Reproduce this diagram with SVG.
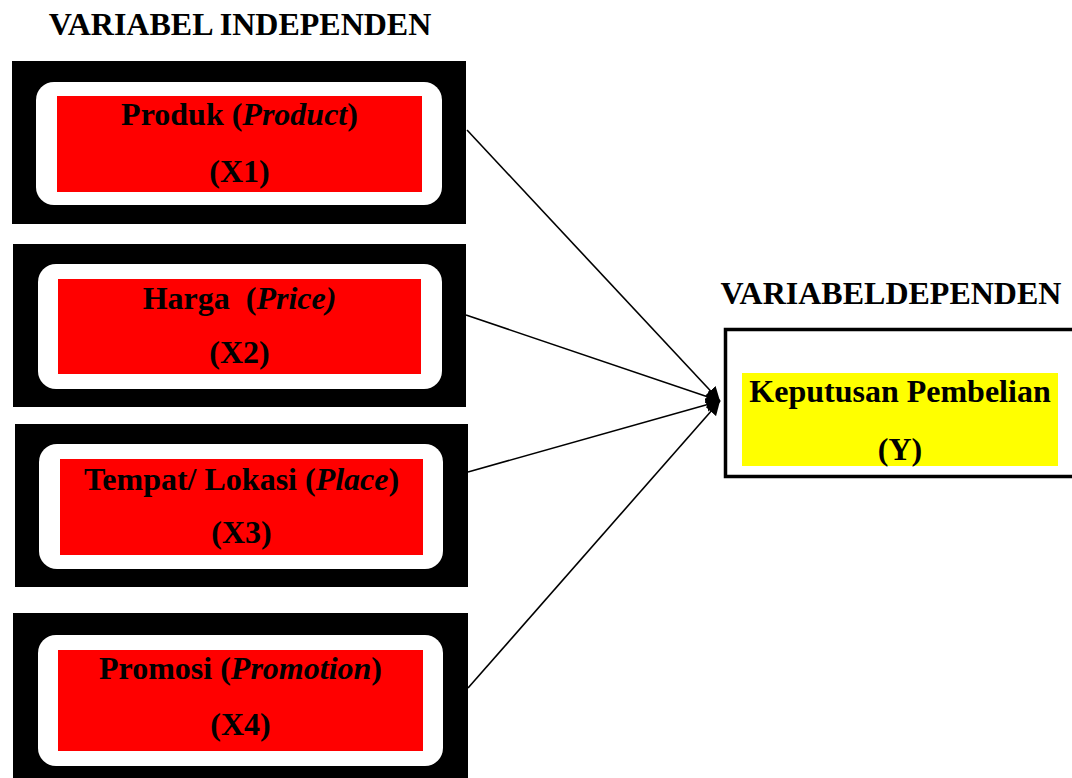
<svg xmlns="http://www.w3.org/2000/svg" width="1072" height="778" viewBox="0 0 1072 778">
<style>
text{font-family:"Liberation Serif","Times New Roman",serif;font-weight:bold;font-size:32px;fill:#000;text-anchor:middle;white-space:pre}
.it{font-style:italic}
.outer{fill:#000}
.inner{fill:#fff}
.red{fill:#ff0000}
.conn{stroke:#000;stroke-width:1.6;fill:none}
</style>
<defs>
<marker id="arr" markerUnits="userSpaceOnUse" markerWidth="16" markerHeight="14" refX="14" refY="7" orient="auto">
<path d="M0,0 L14,7 L0,14 Z" fill="#000"/>
</marker>
</defs>
<rect width="1072" height="778" fill="#fff"/>
<text x="240" y="35">VARIABEL INDEPENDEN</text>
<text x="891" y="304">VARIABELDEPENDEN</text>

<g id="x1">
<rect class="outer" x="12" y="61" width="454" height="163"/>
<rect class="inner" x="36" y="82" width="406" height="123" rx="18"/>
<rect class="red" x="57" y="96" width="365" height="96"/>
<text x="239.5" y="125">Produk (<tspan class="it">Product</tspan>)</text>
<text x="239.5" y="182">(X1)</text>
</g>

<g id="x2">
<rect class="outer" x="13" y="244" width="453" height="163"/>
<rect class="inner" x="38" y="264" width="404" height="125" rx="18"/>
<rect class="red" x="58" y="279" width="363" height="95"/>
<text x="239.5" y="309">Harga  (<tspan class="it">Price)</tspan></text>
<text x="239.5" y="363">(X2)</text>
</g>

<g id="x3">
<rect class="outer" x="15" y="424" width="453" height="163"/>
<rect class="inner" x="39" y="444" width="404" height="125" rx="18"/>
<rect class="red" x="60" y="459" width="363" height="96"/>
<text x="241.5" y="490">Tempat/ Lokasi (<tspan class="it">Place</tspan>)</text>
<text x="241.5" y="543">(X3)</text>
</g>

<g id="x4">
<rect class="outer" x="13" y="613" width="455" height="170"/>
<rect class="inner" x="38" y="635" width="405" height="131" rx="18"/>
<rect class="red" x="58" y="650" width="365" height="101"/>
<text x="240.5" y="679">Promosi (<tspan class="it">Promotion</tspan>)</text>
<text x="240.5" y="735">(X4)</text>
</g>

<g id="y">
<rect x="725.5" y="329.5" width="360" height="147" fill="#fff" stroke="#000" stroke-width="3.5"/>
<rect x="742" y="373" width="316" height="93" fill="#ffff00"/>
<text x="900" y="402">Keputusan Pembelian</text>
<text x="900" y="460">(Y)</text>
</g>

<g id="connectors">
<line class="conn" x1="467" y1="130" x2="720" y2="401" marker-end="url(#arr)"/>
<line class="conn" x1="466" y1="315" x2="720" y2="401" marker-end="url(#arr)"/>
<line class="conn" x1="468" y1="472" x2="720" y2="401" marker-end="url(#arr)"/>
<line class="conn" x1="468" y1="688" x2="720" y2="401" marker-end="url(#arr)"/>
</g>
</svg>
